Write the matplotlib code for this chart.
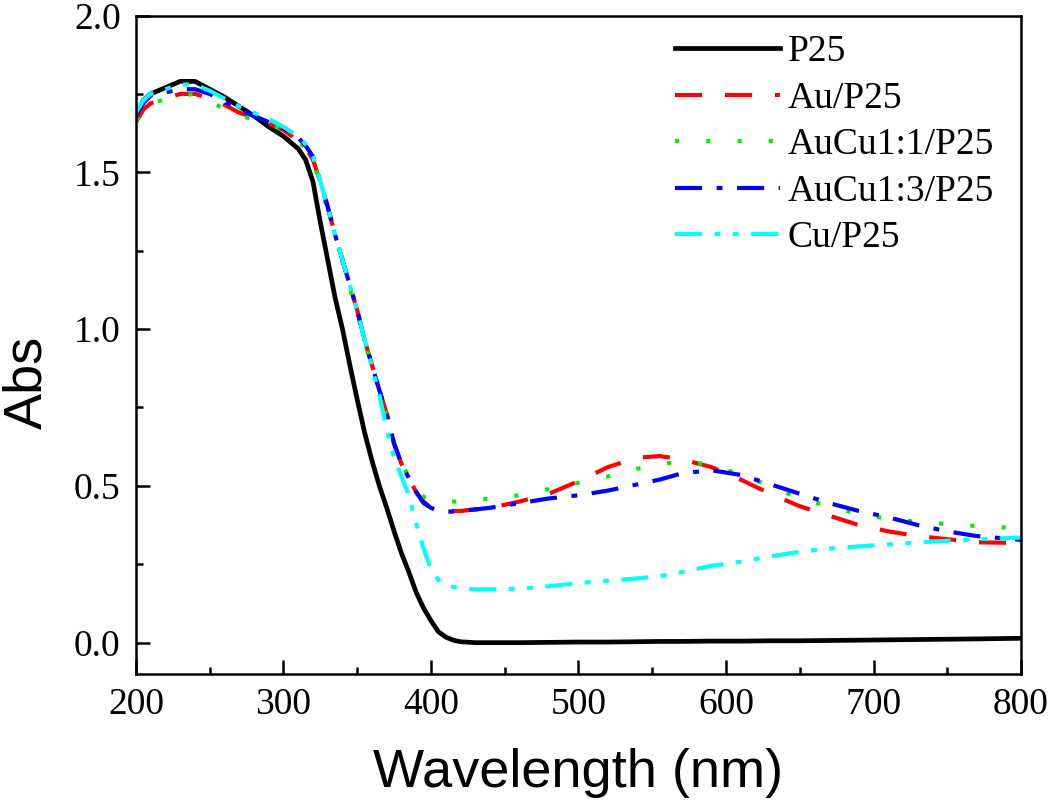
import matplotlib
matplotlib.use("Agg")
import matplotlib.pyplot as plt
from matplotlib.ticker import MultipleLocator, FormatStrFormatter

# Wavelength grid (nm)
wavelength = [200, 205, 210, 220, 230, 240, 250, 260, 270, 280, 290, 300, 310, 315, 320, 325,
              330, 335, 340, 345, 350, 355, 360, 365, 370, 375, 380, 385, 390, 395, 400, 405,
              410, 415, 420, 430, 440, 460, 480, 500, 520, 540, 555, 570, 590, 610, 630, 650,
              670, 690, 710, 730, 750, 770, 800]

abs_p25 = [1.68, 1.73, 1.75, 1.77, 1.79, 1.79, 1.765, 1.74, 1.71, 1.68, 1.645, 1.615, 1.575, 1.54, 1.47, 1.34,
           1.22, 1.10, 1.00, 0.885, 0.775, 0.67, 0.58, 0.50, 0.43, 0.355, 0.285, 0.225, 0.16, 0.11, 0.07, 0.035,
           0.018, 0.008, 0.003, 0.0, 0.0, 0.0, 0.001, 0.002, 0.002, 0.003, 0.004, 0.004, 0.005, 0.005, 0.006, 0.006,
           0.007, 0.008, 0.009, 0.010, 0.011, 0.012, 0.014]

abs_au = [1.66, 1.70, 1.72, 1.735, 1.75, 1.75, 1.735, 1.715, 1.69, 1.675, 1.655, 1.635, 1.60, 1.58, 1.54, 1.47,
          1.39, 1.30, 1.22, 1.14, 1.06, 0.965, 0.885, 0.805, 0.73, 0.635, 0.57, 0.525, 0.48, 0.45, 0.43, 0.425,
          0.42, 0.42, 0.42, 0.425, 0.43, 0.45, 0.475, 0.515, 0.56, 0.59, 0.595, 0.585, 0.56, 0.52, 0.475, 0.435,
          0.405, 0.375, 0.355, 0.34, 0.33, 0.32, 0.318]

abs_aucu11 = [1.665, 1.70, 1.725, 1.73, 1.745, 1.75, 1.73, 1.70, 1.68, 1.67, 1.655, 1.635, 1.60, 1.575, 1.54, 1.46,
              1.38, 1.30, 1.215, 1.13, 1.05, 0.96, 0.88, 0.80, 0.72, 0.63, 0.57, 0.53, 0.49, 0.465, 0.455, 0.45,
              0.45, 0.45, 0.45, 0.455, 0.46, 0.47, 0.49, 0.51, 0.53, 0.555, 0.57, 0.577, 0.568, 0.535, 0.50, 0.46,
              0.435, 0.41, 0.395, 0.385, 0.378, 0.372, 0.365]

abs_aucu13 = [1.68, 1.72, 1.745, 1.755, 1.765, 1.765, 1.75, 1.725, 1.70, 1.68, 1.66, 1.64, 1.61, 1.585, 1.55, 1.47,
              1.39, 1.30, 1.22, 1.14, 1.06, 0.965, 0.885, 0.805, 0.73, 0.635, 0.57, 0.525, 0.48, 0.445, 0.43, 0.42,
              0.418, 0.418, 0.42, 0.425, 0.43, 0.445, 0.46, 0.47, 0.485, 0.505, 0.52, 0.54, 0.55, 0.535, 0.505, 0.475,
              0.445, 0.42, 0.40, 0.375, 0.355, 0.34, 0.328]

abs_cu = [1.69, 1.73, 1.75, 1.765, 1.78, 1.78, 1.76, 1.735, 1.71, 1.69, 1.67, 1.645, 1.615, 1.59, 1.55, 1.47,
          1.39, 1.30, 1.22, 1.14, 1.06, 0.965, 0.88, 0.79, 0.68, 0.59, 0.53, 0.47, 0.38, 0.30, 0.235, 0.20,
          0.185, 0.178, 0.173, 0.17, 0.17, 0.172, 0.18, 0.19, 0.198, 0.205, 0.212, 0.225, 0.245, 0.258, 0.275, 0.29,
          0.30, 0.307, 0.313, 0.32, 0.325, 0.33, 0.335]

labels = ["P25", "Au/P25", "AuCu1:1/P25", "AuCu1:3/P25", "Cu/P25"]

fig = plt.figure(figsize=(10.5, 8.08), dpi=100)
ax = fig.add_axes([0.1295, 0.1658, 0.8429, 0.815])

lw = 3.0
ax.plot(wavelength, abs_p25, color="black", lw=3.4, label=labels[0])
ax.plot(wavelength, abs_au, color="#ff0000", lw=lw, linestyle=(0, (6.5, 5.5)), label=labels[1])
ax.plot(wavelength, abs_aucu11, color="#00ee00", lw=lw, linestyle=(0, (1.0, 6.5)), label=labels[2])
ax.plot(wavelength, abs_aucu13, color="#0000ff", lw=lw, linestyle=(0, (6.5, 3.5, 1.4, 3.5)), label=labels[3])
ax.plot(wavelength, abs_cu, color="#00ffff", lw=lw, linestyle=(0, (6.5, 3, 1.4, 3, 1.4, 3)), label=labels[4])

ax.set_xlim(200, 800)
ax.set_ylim(-0.1, 2.0)
ax.xaxis.set_major_locator(MultipleLocator(100))
ax.xaxis.set_minor_locator(MultipleLocator(50))
ax.yaxis.set_major_locator(MultipleLocator(0.5))
ax.yaxis.set_minor_locator(MultipleLocator(0.25))
ax.yaxis.set_major_formatter(FormatStrFormatter("%.1f"))

ax.tick_params(which="major", direction="in", length=10, width=1.8, top=False, right=False,
               labelsize=27)
ax.tick_params(axis="x", which="major", pad=10)
ax.tick_params(axis="y", which="major", pad=11)
ax.tick_params(which="minor", direction="in", length=5, width=1.8, top=False, right=False)
for lab in ax.get_xticklabels() + ax.get_yticklabels():
    lab.set_fontfamily("Liberation Serif")
for sp in ax.spines.values():
    sp.set_linewidth(1.8)

ax.set_xlabel("Wavelength (nm)", fontsize=39, family="Liberation Sans")
ax.set_ylabel("Abs", fontsize=39, family="Liberation Sans")
ax.xaxis.set_label_coords(0.5, -0.112)
ax.yaxis.set_label_coords(-0.094, 0.443)

leg = ax.legend(loc="upper right", frameon=False, prop={"family": "Liberation Serif", "size": 27},
                handlelength=2.8, handletextpad=0.2, labelspacing=0.32,
                borderaxespad=0.2, bbox_to_anchor=(0.995, 1.005))

fig.savefig("out.png", dpi=100)
